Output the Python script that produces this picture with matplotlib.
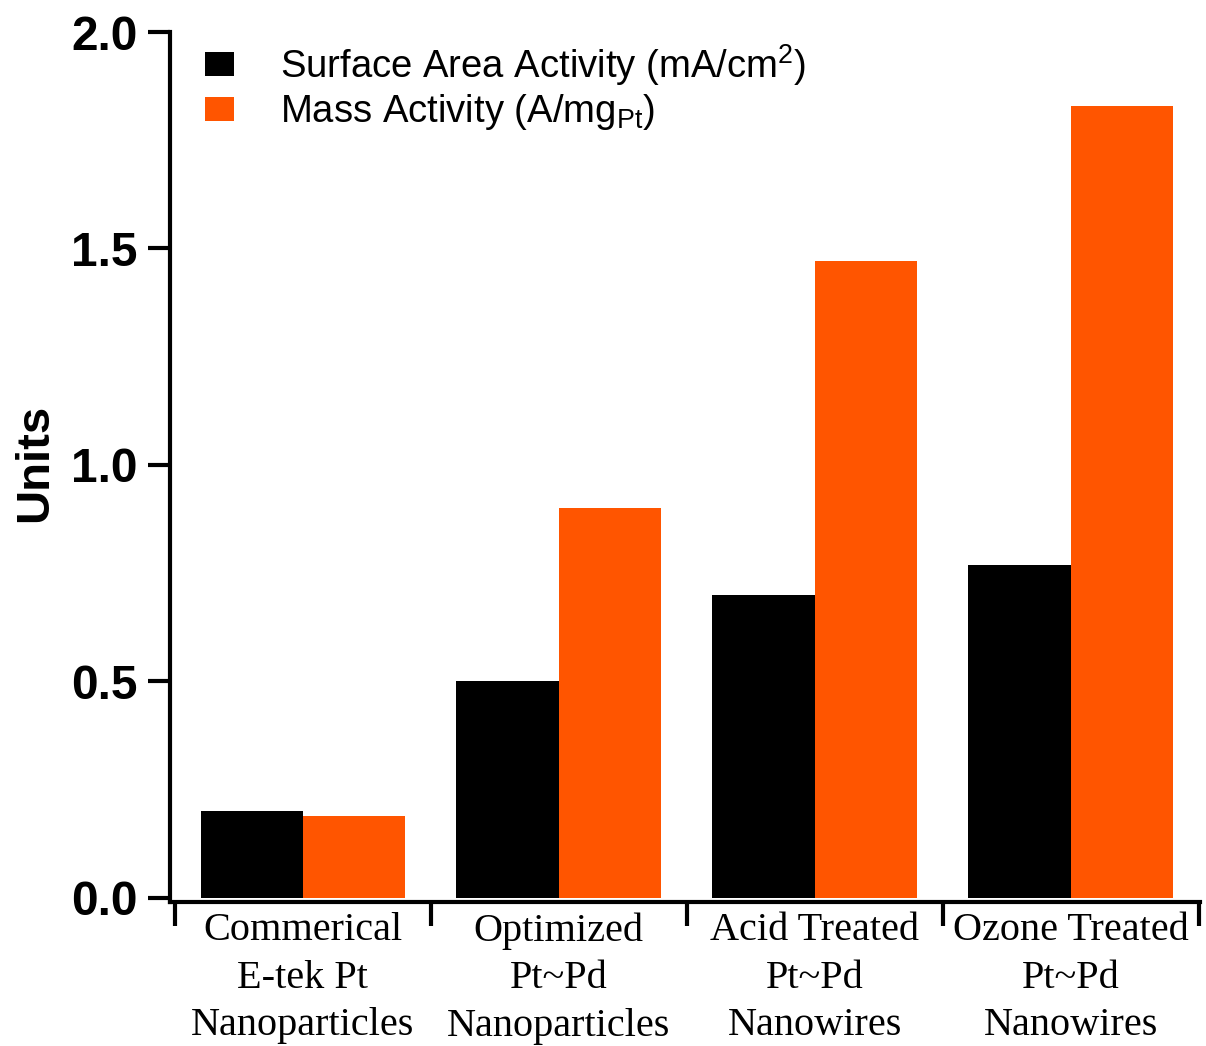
import matplotlib
matplotlib.use("Agg")
import matplotlib.pyplot as plt
from matplotlib.patches import Patch
import numpy as np

categories = ["Commerical\nE-tek Pt\nNanoparticles",
              "Optimized\nPt~Pd\nNanoparticles",
              "Acid Treated\nPt~Pd\nNanowires",
              "Ozone Treated\nPt~Pd\nNanowires"]
surface_area = [0.20, 0.50, 0.70, 0.77]
mass_activity = [0.19, 0.90, 1.47, 1.83]
series_names = [r"Surface Area Activity (mA/cm$^{2}$)",
                r"Mass Activity (A/mg$_{\mathrm{Pt}}$)"]
yticks = [0.0, 0.5, 1.0, 1.5, 2.0]
ytick_labels = ["0.0", "0.5", "1.0", "1.5", "2.0"]

plt.rcParams['mathtext.fontset'] = 'custom'
plt.rcParams['mathtext.rm'] = 'Liberation Sans'
plt.rcParams['mathtext.it'] = 'Liberation Sans:italic'
plt.rcParams['mathtext.bf'] = 'Liberation Sans:bold'

BLACK = "#000000"
ORANGE = "#FF5500"

fig = plt.figure(figsize=(12.06, 10.46), dpi=100)
ax = fig.add_axes([0.141, 0.1374, 0.854, 0.832])

x = np.arange(len(categories))
w = 0.4
ax.bar(x - w / 2, surface_area, width=w, color=BLACK, align="center", linewidth=0)
ax.bar(x + w / 2, mass_activity, width=w, color=ORANGE, align="center", linewidth=0)

ax.set_xlim(-0.519, 3.505)
ax.set_ylim(-0.01, 2.0)

for s in ["top", "right"]:
    ax.spines[s].set_visible(False)
for s in ["left", "bottom"]:
    ax.spines[s].set_linewidth(3)

# y axis
ax.set_yticks(yticks)
ax.set_yticklabels(ytick_labels, fontfamily="Liberation Sans", fontweight="bold", fontsize=34.5)
ax.tick_params(axis="y", direction="out", length=15.5, width=3, pad=8)

# x axis: major ticks at group boundaries, labels at group centers
ax.set_xticks(np.arange(len(categories) + 1) - 0.5)
ax.set_xticklabels([])
ax.tick_params(axis="x", which="major", direction="out", length=17, width=3)
ax.set_xticks(x, minor=True)
ax.set_xticklabels(categories, minor=True, fontfamily="Liberation Serif",
                   fontsize=29, linespacing=1.38)
ax.tick_params(axis="x", which="minor", length=0, pad=7)

ax.set_ylabel("Units", fontfamily="Liberation Sans", fontweight="bold", fontsize=34)
ax.yaxis.set_label_coords(-0.11, 0.505)

handles = [Patch(facecolor=BLACK, edgecolor="none"),
           Patch(facecolor=ORANGE, edgecolor="none")]
leg = ax.legend(handles, series_names, loc="upper left", bbox_to_anchor=(0.030, 0.993),
                frameon=False, prop={"family": "Liberation Sans", "size": 27.5},
                handlelength=0.77, handleheight=0.6, handletextpad=1.2,
                labelspacing=0.12, borderaxespad=0, borderpad=0.1)

fig.savefig("out.png", dpi=100)
